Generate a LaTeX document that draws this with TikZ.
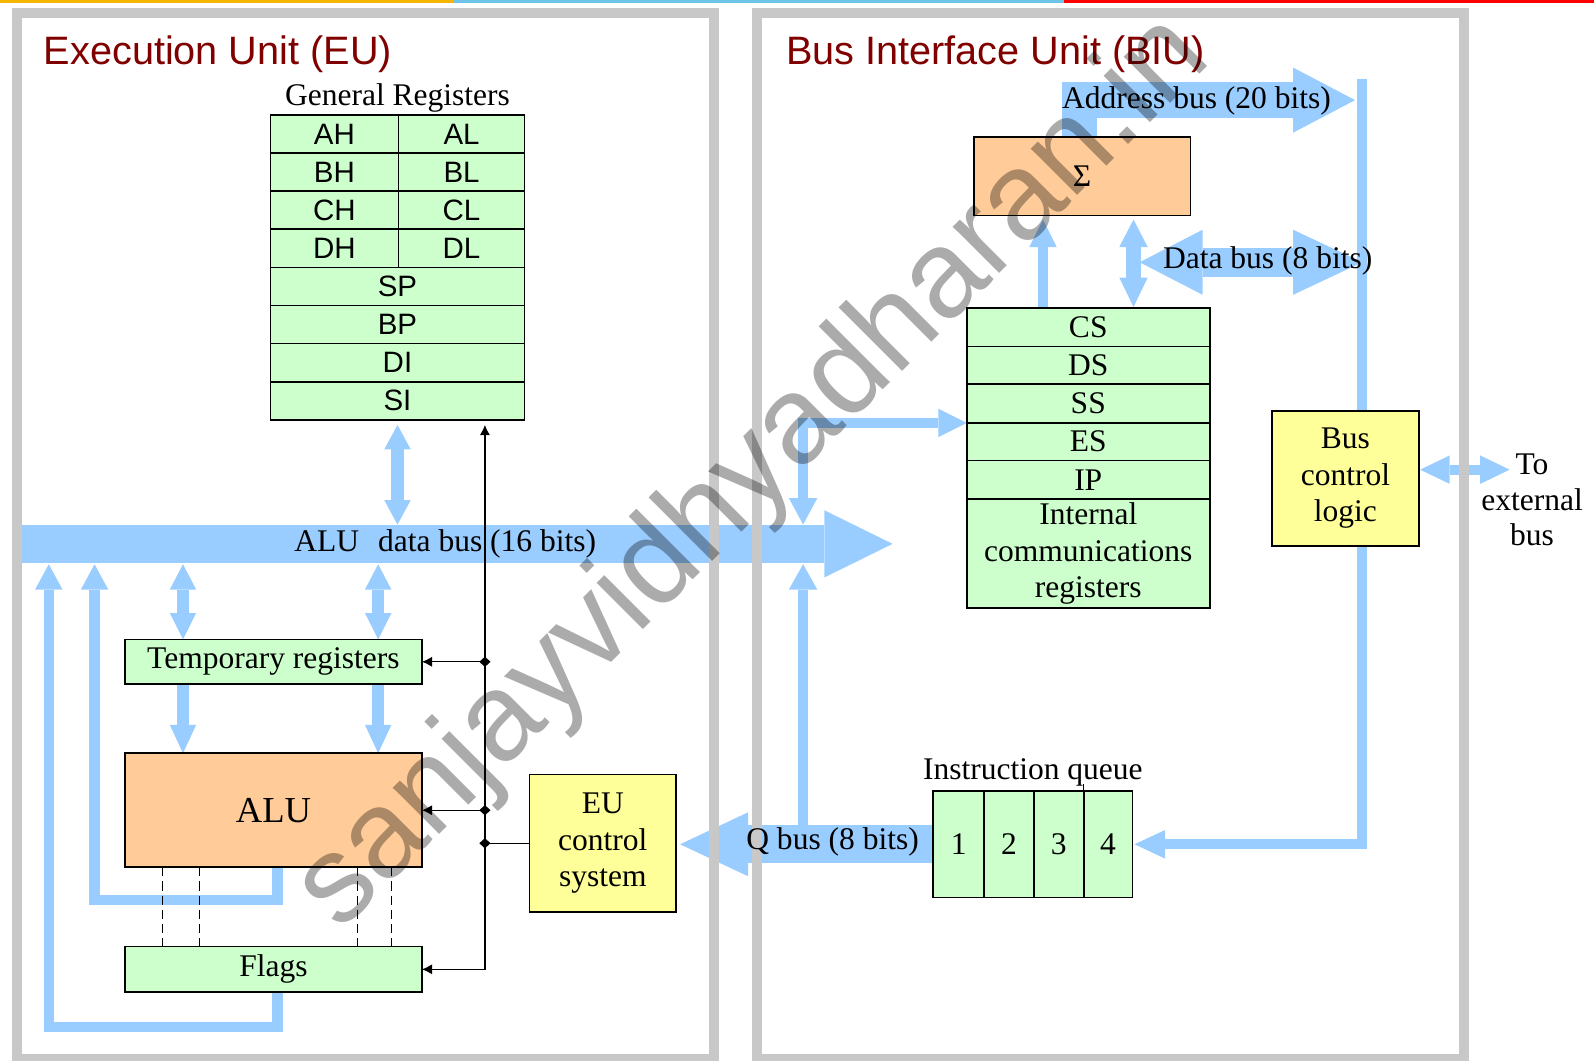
\documentclass[tikz,border=0pt]{standalone}
\usepackage{fontspec}
\setmainfont{Liberation Serif}
\newfontfamily\arialfam{Liberation Sans}
\usetikzlibrary{arrows.meta,calc}
\pgfdeclarelayer{bg}
\pgfsetlayers{bg,main}
\definecolor{regfill}{HTML}{CCFFCC}
\definecolor{alufill}{HTML}{FFCC99}
\definecolor{ctlfill}{HTML}{FFFF99}
\definecolor{busblue}{HTML}{99CCFF}
\definecolor{framegray}{HTML}{C8C8C8}
\definecolor{titlered}{HTML}{800000}
\definecolor{topor}{HTML}{F5B400}
\definecolor{topbl}{HTML}{6CC4E8}
\definecolor{topred}{HTML}{FF0000}
\newcommand\mylbl{\fontsize{31}{36}\selectfont}
\newcommand\myreg{\arialfam\fontsize{29}{32}\selectfont}
\newcommand\mytitle{\arialfam\fontsize{39}{44}\selectfont}
\begin{document}
\begin{tikzpicture}[x=1pt,y=-1pt,
  bx/.style={draw, line width=1.6pt, inner sep=0pt, outer sep=0pt, anchor=north west, font=\mylbl, align=center},
  gbox/.style={bx, fill=regfill},
  obox/.style={bx, fill=alufill},
  ybox/.style={bx, fill=ctlfill},
  rcell/.style={gbox, font=\myreg},
  lbl/.style={font=\mylbl, inner sep=0pt, align=center},
  bluel/.style={color=busblue, line width=#1, line join=miter},
  ctlline/.style={line width=1.2pt},
  panelframe/.style={draw=framegray, line width=10pt},
]
\useasboundingbox (0,0) rectangle (1568,1043);

% ---------- coordinates ----------
\coordinate (busL) at (17,535);
\coordinate (busR) at (878,535);
\coordinate (busTop) at (0,516);
\coordinate (busBot) at (0,555);
\coordinate (xA) at (180,0);
\coordinate (xB) at (372,0);
\coordinate (xF) at (273,0);
\coordinate (fbA) at (93,885);
\coordinate (fbB) at (48,1010);
\coordinate (xQ) at (790,0);
\coordinate (xC) at (477,0);
\coordinate (xS1) at (1026,0);
\coordinate (xS2) at (1115,0);
\coordinate (xR) at (1340,0);
\coordinate (xAd) at (1062,0);
\coordinate (addrTip) at (1333,98.5);
\coordinate (dbL) at (1121,258);
\coordinate (vTop) at (1340,78);
\coordinate (extTip) at (1485,462);

% ---------- boxes ----------
\path
  node[rcell, minimum width=126pt, minimum height=37.5pt] (ah) at (266,113) {AH}
  node[rcell, minimum width=124pt, minimum height=37.5pt] (al) at (392,113) {AL}
  node[rcell, minimum width=126pt, minimum height=37.5pt] (bh) at (266,150.5) {BH}
  node[rcell, minimum width=124pt, minimum height=37.5pt] (bl) at (392,150.5) {BL}
  node[rcell, minimum width=126pt, minimum height=37.5pt] (ch) at (266,188) {CH}
  node[rcell, minimum width=124pt, minimum height=37.5pt] (cl) at (392,188) {CL}
  node[rcell, minimum width=126pt, minimum height=37.5pt] (dh) at (266,225.5) {DH}
  node[rcell, minimum width=124pt, minimum height=37.5pt] (dl) at (392,225.5) {DL}
  node[rcell, minimum width=250pt, minimum height=37.5pt] (sp) at (266,263) {SP}
  node[rcell, minimum width=250pt, minimum height=37.5pt] (bp) at (266,300.5) {BP}
  node[rcell, minimum width=250pt, minimum height=37.5pt] (di) at (266,338) {DI}
  node[rcell, minimum width=250pt, minimum height=37.5pt] (si) at (266,375.5) {SI};
\path node[gbox, minimum width=292pt, minimum height=44pt] (temp) at (123,629) {Temporary registers}
      node[obox, minimum width=292pt, minimum height=112pt, font=\fontsize{36}{40}\selectfont] (alu) at (123,741) {ALU}
      node[gbox, minimum width=292pt, minimum height=45pt] (flags) at (123,931) {Flags}
      node[ybox, minimum width=144pt, minimum height=135pt] (eucs) at (521,762) {EU\\control\\system}
      node[obox, minimum width=213pt, minimum height=77pt, font=\fontsize{31}{34}\selectfont] (sigma) at (958,135) {\raisebox{-5pt}{Σ}}
      node[gbox, minimum width=239pt, minimum height=38pt] (cs) at (951,303) {CS}
      node[gbox, minimum width=239pt, minimum height=37pt] (ds) at (951,341) {DS}
      node[gbox, minimum width=239pt, minimum height=38pt] (ss) at (951,378) {SS}
      node[gbox, minimum width=239pt, minimum height=37pt] (es) at (951,416) {ES}
      node[gbox, minimum width=239pt, minimum height=38pt] (ip) at (951,453) {IP}
      node[gbox, minimum width=239pt, minimum height=107pt] (icr) at (951,491) {Internal\\communications\\registers}
      node[ybox, minimum width=145pt, minimum height=133pt] (bcl) at (1251,404) {Bus\\control\\logic}
      node[gbox, minimum width=50pt, minimum height=105pt] (q1) at (918,778) {1}
      node[gbox, minimum width=49pt, minimum height=105pt] (q2) at (968,778) {2}
      node[gbox, minimum width=49pt, minimum height=105pt] (q3) at (1017,778) {3}
      node[gbox, minimum width=48pt, minimum height=105pt] (q4) at (1066,778) {4};
\draw[line width=1.2pt] (q3.north east) -- ++(0,-7);

% ---------- blue buses and panel frames (behind the boxes) ----------
\begin{pgfonlayer}{bg}
\draw[bluel=38pt, -{Triangle[width=66pt,length=67pt,line width=0pt 0 0]}] (busL) -- (busR);
\draw[bluel=12pt, {Triangle[width=26pt,length=24pt,line width=0pt 0 0]}-{Triangle[width=26pt,length=24pt,line width=0pt 0 0]}, shorten <=5pt] (si.south) -- (si.south |- busTop);
\foreach \xx in {xA,xB}{
  \draw[bluel=12pt, {Triangle[width=26pt,length=25pt,line width=0pt 0 0]}-{Triangle[width=26pt,length=26pt,line width=0pt 0 0]}] (\xx |- busBot) -- (temp.north -| \xx);
  \draw[bluel=12pt, -{Triangle[width=26pt,length=28pt,line width=0pt 0 0]}] (temp.south -| \xx) -- (alu.north -| \xx);
}
\draw[bluel=10pt, -{Triangle[width=27pt,length=25pt,line width=0pt 0 0]}] (alu.south -| xF) |- (fbA) -- (fbA |- busBot);
\draw[bluel=10pt, -{Triangle[width=27pt,length=25pt,line width=0pt 0 0]}] (flags.south -| xF) |- (fbB) -- (fbB |- busBot);
\draw[bluel=10pt, -{Triangle[width=28pt,length=25pt,line width=0pt 0 0]}] (xQ |- q1.west) -- (xQ |- busBot);
\draw[bluel=10pt, {Triangle[width=28pt,length=26pt,line width=0pt 0 0]}-{Triangle[width=28pt,length=28pt,line width=0pt 0 0]}] (xQ |- busTop) |- (ss.south west);
\draw[bluel=37pt, -{Triangle[width=63pt,length=67pt,line width=0pt 0 0]}, shorten >=4pt] (q1.west) -- (q1.west -| eucs.east);
\draw[bluel=10pt, -{Triangle[width=27pt,length=27pt,line width=0pt 0 0]}, shorten >=4pt] (cs.north -| xS1) -- (sigma.south -| xS1);
\draw[bluel=14pt, {Triangle[width=28pt,length=27pt,line width=0pt 0 0]}-{Triangle[width=28pt,length=29pt,line width=0pt 0 0]}, shorten <=4pt, shorten >=1pt] (sigma.south -| xS2) -- (cs.north -| xS2);
\draw[bluel=10pt, -{Triangle[width=28pt,length=30pt,line width=0pt 0 0]}, shorten >=2pt] (vTop) -- (q4.east -| xR) -- (q4.east);
\draw[bluel=28pt, {Triangle[width=64pt,length=62pt,line width=0pt 0 0]}-{Triangle[width=64pt,length=68pt,line width=0pt 0 0]}] (dbL) -- (dbL -| xR);
\draw[bluel=35pt, -{Triangle[width=64pt,length=61pt,line width=0pt 0 0]}] (sigma.north -| xAd) |- (addrTip);
\draw[bluel=10pt, {Triangle[width=28pt,length=29pt,line width=0pt 0 0]}-{Triangle[width=28pt,length=29pt,line width=0pt 0 0]}, shorten <=1pt] (bcl.east |- extTip) -- (extTip);
\draw[panelframe] (17,13) rectangle (702,1042);
\draw[panelframe] (745,13) rectangle (1440,1042);
\fill[topor] (0,0) rectangle (447,2.5);
\fill[topbl] (447,0) rectangle (1047,2.5);
\fill[topred] (1047,0) rectangle (1568,2.5);
\end{pgfonlayer}

% ---------- dashed flag links ----------
\foreach \xx [count=\i] in {160,196,352,385}{
  \coordinate (dz\i) at (\xx,0);
  \draw[line width=1.1pt, dash pattern=on 9pt off 5pt] (alu.south -| dz\i) -- (flags.north -| dz\i);
}

% ---------- control lines ----------
\draw[ctlline, {Latex[length=10pt,width=10pt]}-{Latex[length=10pt,width=10pt]}, shorten >=5pt] (flags.east) -- (flags.east -| xC) -- (xC |- si.south);
\draw[ctlline, -{Latex[length=10pt,width=10pt]}] (xC |- temp.east) -- (temp.east);
\draw[ctlline, -{Latex[length=10pt,width=10pt]}] (xC |- alu.east) -- (alu.east);
\draw[ctlline] (xC |- eucs.west) -- (eucs.west);
\foreach \nn in {temp,alu,eucs}{
  \fill[shift={(xC |- \nn.west)}] (-5.5,0) -- (0,-5) -- (5.5,0) -- (0,5) -- cycle;
}

% ---------- labels ----------
\node[anchor=base west, font=\mytitle, text=titlered, inner sep=0pt] (eut) at (43,63) {Execution Unit (EU)};
\node[anchor=base west, font=\mytitle, text=titlered, inner sep=0pt] (biut) at (773,63) {Bus Interface Unit (BIU)};
\node[lbl, anchor=base] (grl) at (391,104) {General Registers};
\node[lbl] (busl) at (438,535) {ALU\hspace{0.6em}data bus (16 bits)};
\node[lbl] (addrl) at (1177,99) {Address bus (20 bits)};
\node[lbl] (datal) at (1247,257) {Data bus (8 bits)};
\node[lbl] (ql) at (819,828) {Q bus (8 bits)};
\node[lbl, anchor=base] (iql) at (1016,767) {Instruction queue};
\node[lbl, font=\fontsize{31}{35}\selectfont] (ext) at (1507,492) {To\\external\\bus};

% ---------- watermark ----------
\node[rotate=45, font=\arialfam\fontsize{122}{128}\selectfont, text=black, text opacity=0.33, inner sep=0pt] (wm) at (742,466) {sanjayvidhyadharan.in};
\end{tikzpicture}
\end{document}
